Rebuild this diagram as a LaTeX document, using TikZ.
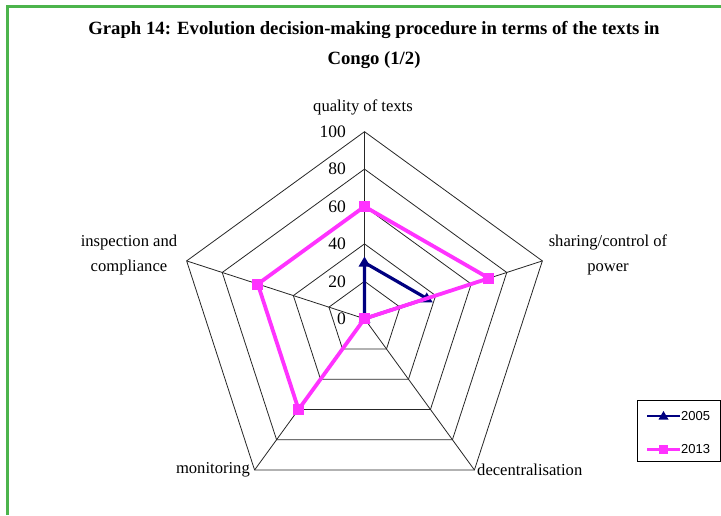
\documentclass[tikz,border=0pt]{standalone}
\usepackage{fontspec}
\setmainfont{Liberation Serif}
\newfontfamily\legendfont{Liberation Sans}
\usetikzlibrary{calc}
\definecolor{framegreen}{RGB}{76,180,76}
\definecolor{navyline}{RGB}{0,0,128}
\definecolor{pinkline}{RGB}{255,51,255}
\tikzset{
  gridline/.style={draw=black!85, line width=0.8pt},
  axislabel/.style={font=\fontsize{16.6}{18}\selectfont, inner sep=0pt, align=center},
  ticklabel/.style={font=\fontsize{17.5}{19}\selectfont, inner sep=0pt, anchor=east},
  titletext/.style={font=\bfseries\fontsize{18.7}{21}\selectfont, inner sep=0pt},
  seriesA/.style={draw=navyline, line width=3.2pt, line join=miter},
  seriesB/.style={draw=pinkline, line width=3.8pt, line join=miter},
  markA/.style={fill=navyline, draw=none},
  markB/.style={fill=pinkline, draw=none, minimum size=11pt, inner sep=0pt, rectangle},
  legendtext/.style={font=\legendfont\fontsize{13}{15}\selectfont, inner sep=0pt, anchor=west}
}
\begin{document}
\begin{tikzpicture}[x=1pt,y=1pt]
  \useasboundingbox (0,0) rectangle (721,515);
  \fill[white] (0,0) rectangle (721,515);
  % frame
  \draw[framegreen, line width=3pt] (7,0) -- (7,508) -- (721,508);

  % title
  \node[titletext] (title1) at (374,485) {Graph 14: Evolution decision-making procedure in terms of the texts in};
  \node[titletext] (title2) at (374,455) {Congo (1/2)};

  % radar grid
  \coordinate (C) at (364.5,196.3);
  \def\unitr{1.87}
  \foreach \v in {20,40,60,80,100}{
    \draw[gridline] ($(C)+(90:\v*\unitr)$) -- ($(C)+(18:\v*\unitr)$) -- ($(C)+(-54:\v*\unitr)$)
      -- ($(C)+(-126:\v*\unitr)$) -- ($(C)+(162:\v*\unitr)$) -- cycle;
  }
  \foreach \a/\n in {90/q,18/s,-54/d,-126/m,162/i}{
    \coordinate (v\n) at ($(C)+(\a:187)$);
    \draw[gridline] (C) -- (v\n);
  }

  % scale labels
  \foreach \v in {0,20,40,60,80,100}{
    \node[ticklabel] (t\v) at ($(C)+(-18.5,\v*\unitr)$) {\v};
  }

  % axis titles
  \node[axislabel] (lq) at (363,408) {quality of texts};
  \node[axislabel] (ls) at (608,260) {sharing/control of\\[7pt]power};
  \node[axislabel] (li) at (129,260) {inspection and\\[7pt]compliance};
  \node[axislabel, anchor=east] (lm) at (250,45) {monitoring};
  \node[axislabel, anchor=west] (ld) at (477,45) {decentralisation};

  % series 2005
  \coordinate (a1) at ($(C)+(90:30*\unitr)$);
  \coordinate (a2) at ($(C)+(18:35*\unitr)$);
  \coordinate (a3) at (C);
  \coordinate (a4) at (C);
  \coordinate (a5) at (C);
  \draw[seriesA] (a1) -- (a2) -- (a3) -- (a4) -- (a5) -- cycle;
  \foreach \p in {a1,a2,a3}{
    \fill[markA] ($(\p)+(0,6)$) -- ($(\p)+(-6,-4)$) -- ($(\p)+(6,-4)$) -- cycle;
  }

  % series 2013
  \coordinate (b1) at ($(C)+(90:60*\unitr)$);
  \coordinate (b2) at ($(C)+(18:70*\unitr)$);
  \coordinate (b3) at (C);
  \coordinate (b4) at ($(C)+(-126:60*\unitr)$);
  \coordinate (b5) at ($(C)+(162:60*\unitr)$);
  \draw[seriesB] (b1) -- (b2) -- (b3) -- (b4) -- (b5) -- cycle;
  \foreach \p in {b1,b2,b3,b4,b5}{
    \node[markB] at (\p) {};
  }

  % legend
  \node[draw=black, line width=0.9pt, minimum width=83pt, minimum height=61pt, inner sep=0pt] (legend) at (678.5,84.5) {};
  \coordinate (la0) at (647,99);
  \coordinate (la1) at (680,99);
  \draw[seriesA, line width=2.6pt] (la0) -- (la1);
  \fill[markA] ($(la0)!0.5!(la1)+(0,5)$) -- ($(la0)!0.5!(la1)+(-5,-3.5)$) -- ($(la0)!0.5!(la1)+(5,-3.5)$) -- cycle;
  \node[legendtext] (l2005) at (681,99) {2005};
  \coordinate (lb0) at (647,66);
  \coordinate (lb1) at (680,66);
  \draw[seriesB, line width=3pt] (lb0) -- (lb1);
  \node[markB, minimum size=9pt] at ($(lb0)!0.5!(lb1)$) {};
  \node[legendtext] (l2013) at (681,66) {2013};
\end{tikzpicture}
\end{document}
